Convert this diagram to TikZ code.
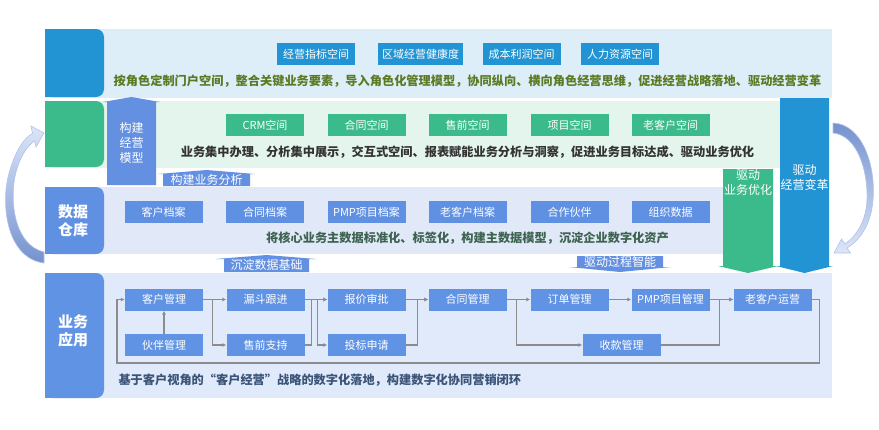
\documentclass[tikz,border=0pt]{standalone}
\usepackage{fontspec}
\setmainfont{Noto Sans CJK SC}
\usetikzlibrary{arrows.meta}
\usepackage{xcolor}

\definecolor{blkone}{RGB}{35,148,211}
\definecolor{blktwo}{RGB}{59,186,139}
\definecolor{blkthree}{RGB}{96,144,226}
\definecolor{blkfour}{RGB}{96,147,228}
\definecolor{bgone}{RGB}{222,238,249}
\definecolor{bgtwo}{RGB}{228,245,237}
\definecolor{bgthree}{RGB}{225,232,248}
\definecolor{bgfour}{RGB}{224,234,250}
\definecolor{arrblue}{RGB}{99,144,224}
\definecolor{olivetext}{RGB}{92,122,36}
\definecolor{greytext}{RGB}{51,51,51}
\definecolor{greentext}{RGB}{62,99,80}
\definecolor{bluetext}{RGB}{59,84,120}
\definecolor{linegray}{RGB}{140,140,140}
\definecolor{curvedark}{RGB}{117,146,207}
\definecolor{curvelight}{RGB}{221,230,248}
\definecolor{curveedge}{RGB}{176,195,236}

\begin{document}
\begin{tikzpicture}[x=1pt, y=-1pt,
  tile/.style={minimum width=78pt, minimum height=22pt, inner sep=0pt,
               font=\fontsize{11}{13}\selectfont, text=white},
  note/.style={font=\fontsize{12.2}{14}\selectfont\bfseries},
  side/.style={font=\fontsize{15}{18}\selectfont\bfseries, text=white, align=center},
  tag/.style={font=\fontsize{12}{15}\selectfont, text=white, align=center, inner sep=0pt},
  flow/.style={draw=linegray, line width=1.3pt, -{Latex[length=4pt,width=4pt]}},
]
  \useasboundingbox (0,0) rectangle (879,429);

  % Layers
  \fill[bgone] (45,29) rectangle (832,98);
  \fill[bgtwo] (45,101) rectangle (780,168);
  \fill[bgthree] (45,187) rectangle (723,254);
  \fill[bgfour] (45,273) rectangle (832,398);

  \fill[blkone, rounded corners=8pt] (45,29) rectangle (104,97);
  \fill[blkone] (45,29) rectangle (70,97);
  \fill[blktwo, rounded corners=8pt] (45,101) rectangle (104,167);
  \fill[blktwo] (45,101) rectangle (70,167);
  \fill[blkthree, rounded corners=8pt] (45,187) rectangle (104,254);
  \fill[blkthree] (45,187) rectangle (70,254);
  \fill[blkfour, rounded corners=8pt] (45,273) rectangle (104,398);
  \fill[blkfour] (45,273) rectangle (70,398);

  \node[side] (cang) at (73,220.5) {数据\\仓库};
  \node[side] (ying) at (73,331) {业务\\应用};

  % Portal spaces
  \node[tile, fill=blkone] (z1) at (316,54) {经营指标空间};
  \node[tile, fill=blkone, minimum width=85pt] (z2) at (420.5,54) {区域经营健康度};
  \node[tile, fill=blkone] (z3) at (521.5,54) {成本利润空间};
  \node[tile, fill=blkone] (z4) at (620,54) {人力资源空间};
  \node[note, text=olivetext] (d1) at (467.5,81)
    {按角色定制门户空间，整合关键业务要素，导入角色化管理模型，协同纵向、横向角色经营思维，促进经营战略落地、驱动经营变革};

  % Business spaces
  \node[tile, fill=blktwo] (k1) at (265,125) {CRM空间};
  \node[tile, fill=blktwo] (k2) at (366.5,125) {合同空间};
  \node[tile, fill=blktwo] (k3) at (467.5,125) {售前空间};
  \node[tile, fill=blktwo] (k4) at (569.5,125) {项目空间};
  \node[tile, fill=blktwo] (k5) at (670.5,125) {老客户空间};
  \node[note, text=greytext] (d2) at (467.5,152)
    {业务集中办理、分析集中展示，交互式空间、报表赋能业务分析与洞察，促进业务目标达成、驱动业务优化};

  % Master data
  \node[tile, fill=blkthree] (m1) at (163.5,212) {客户档案};
  \node[tile, fill=blkthree] (m2) at (265,212) {合同档案};
  \node[tile, fill=blkthree] (m3) at (366.5,212) {PMP项目档案};
  \node[tile, fill=blkthree] (m4) at (467.5,212) {老客户档案};
  \node[tile, fill=blkthree] (m5) at (569.5,212) {合作伙伴};
  \node[tile, fill=blkthree] (m6) at (670.5,212) {组织数据};
  \node[note, text=greentext] (d3) at (467.5,238)
    {将核心业务主数据标准化、标签化，构建主数据模型，沉淀企业数字化资产};

  % Wide arrows
  \fill[arrblue] (107,185) -- (107,102) -- (103,102) -- (131.5,97) -- (160,102)
    -- (156,102) -- (156,185) -- cycle;
  \node[tag] (jm) at (131.5,143) {构建\\经营\\模型};
  \fill[arrblue] (163,186) -- (163,174) -- (158,174) -- (206.5,170) -- (255,174)
    -- (250,174) -- (250,186) -- cycle;
  \node[tag] (fx) at (206.5,179.5) {构建业务分析};
  \fill[arrblue] (224,272) -- (224,259) -- (216,259) -- (266.5,255) -- (316,259)
    -- (309,259) -- (309,272) -- cycle;
  \node[tag] (cd) at (266.5,265) {沉淀数据基础};
  \fill[arrblue] (577,256) -- (577,267) -- (569,267) -- (620,272) -- (671,267)
    -- (663,267) -- (663,256) -- cycle;
  \node[tag] (zn) at (620,262) {驱动过程智能};
  \fill[blktwo] (723,169) -- (723,266) -- (718,266) -- (748,273) -- (778,266)
    -- (773,266) -- (773,169) -- cycle;
  \node[tag] (yh) at (748,183) {驱动\\业务优化};
  \fill[blkone] (780,98) -- (780,266) -- (776,266) -- (804.5,273) -- (833,266)
    -- (829,266) -- (829,98) -- cycle;
  \node[tag] (bg) at (804.5,178) {驱动\\经营变革};

  % Curved arrows
  \shadedraw[draw=curveedge, line width=0.6pt, top color=curvelight, bottom color=curvedark]
    (44,263) .. controls (5,258) and (0,200) .. (10,170)
    .. controls (16,150) and (24,138) .. (32.5,133.5)
    -- (31,126) -- (44,133) -- (36,147) -- (34.5,141)
    .. controls (27,146) and (20,157) .. (16,172)
    .. controls (9,200) and (14,245) .. (44,252) -- cycle;
  \shadedraw[draw=curveedge, line width=0.6pt, top color=curvedark, bottom color=curvelight]
    (833,123) .. controls (862,124) and (876,165) .. (873,200)
    .. controls (871,225) and (860,240) .. (847,248)
    -- (850.5,253) -- (834,253) -- (841.5,239) -- (845,244)
    .. controls (856,236) and (866,222) .. (867,200)
    .. controls (868,168) and (856,135) .. (833,133) -- cycle;

  % Business flow
  \node[tile, fill=blkfour] (kh) at (164,299.5) {客户管理};
  \node[tile, fill=blkfour] (ld) at (265.5,299.5) {漏斗跟进};
  \node[tile, fill=blkfour] (bj) at (366.5,299.5) {报价审批};
  \node[tile, fill=blkfour] (ht) at (467.5,299.5) {合同管理};
  \node[tile, fill=blkfour] (dd) at (569.5,299.5) {订单管理};
  \node[tile, fill=blkfour] (pmp) at (670.5,299.5) {PMP项目管理};
  \node[tile, fill=blkfour] (lk) at (772.5,299.5) {老客户运营};
  \node[tile, fill=blkfour] (hb) at (164,345) {伙伴管理};
  \node[tile, fill=blkfour] (sq) at (265.5,345) {售前支持};
  \node[tile, fill=blkfour] (tb) at (366.5,345) {投标申请};
  \node[tile, fill=blkfour] (sk) at (621.5,345) {收款管理};

  \draw[flow] (hb) -- (kh);
  \draw[flow] (kh) -- (ld);
  \draw[flow] (kh.east) -- ++(9,0) |- (sq.west);
  \draw[flow] (ld) -- (bj);
  \draw[flow] (ld.east) -- ++(13,0) |- (tb.west);
  \draw[flow] (sq.east) -- ++(7,0) |- (bj.west);
  \draw[flow] (bj) -- (ht);
  \draw[flow] (tb.east) -- ++(12,0) |- (ht.west);
  \draw[flow] (ht) -- (dd);
  \draw[flow] (ht.east) -- ++(10,0) |- (sk.west);
  \draw[flow] (dd) -- (pmp);
  \draw[flow] (pmp) -- (lk);
  \draw[flow] (sk.east) -- ++(59,0) |- (lk.west);
  \coordinate (back) at (117,363);
  \draw[flow] (lk.east) -- ++(8,0) |- (back) |- (kh.west);

  \node[note, text=bluetext, anchor=west] (d4) at (115,380)
    {基于客户视角的“客户经营”战略的数字化落地，构建数字化协同营销闭环};
\end{tikzpicture}
\end{document}
